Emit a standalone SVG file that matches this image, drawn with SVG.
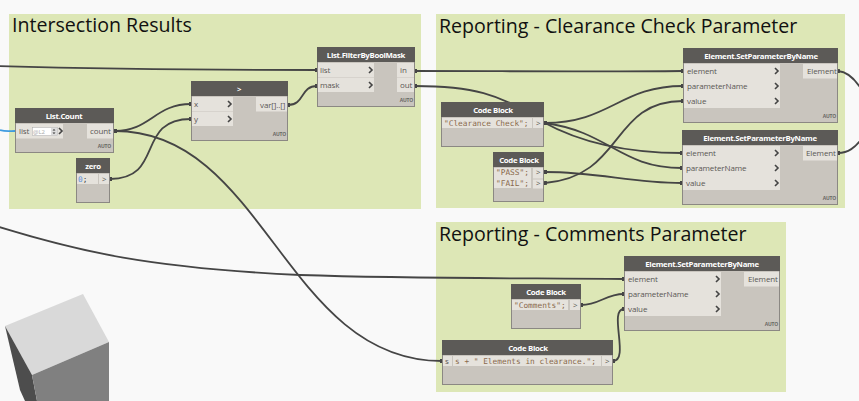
<svg xmlns="http://www.w3.org/2000/svg" width="859" height="401" viewBox="0 0 859 401">
<defs><style>
.grp{fill:#dde7b6}
.title{font:19.6px "Open Sans",sans-serif;fill:#111}
.body{fill:#c9c5be;stroke:#8b8883;stroke-width:1}
.head{fill:#5c5a57}
.row{fill:#e5e2dc}
.h{font:bold 7.800px "Open Sans",sans-serif;fill:#fff;text-anchor:middle;letter-spacing:-.3px}
.p{font:8px "Open Sans",sans-serif;fill:#5a5754;letter-spacing:-.12px}
.c{font:7.800px "DejaVu Sans Mono",monospace;fill:#8a6a4c}
.auto{font:bold 5px "Open Sans",sans-serif;fill:#6a6865;text-anchor:end;letter-spacing:-.2px}
.chev{fill:none;stroke:#444;stroke-width:1.6}
.w{fill:none;stroke:#454545;stroke-width:1.8;marker-start:url(#port);marker-end:url(#port)}
.cube1{fill:#d9d9d9}.cube2{fill:#4d4d4d}.cube3{fill:#808080}
</style>
<marker id="port" markerUnits="userSpaceOnUse" markerWidth="4" markerHeight="4" refX="2" refY="2" orient="auto"><rect width="4" height="4" fill="#454545"/></marker>
</defs>
<rect width="859" height="401" fill="#f9f9f9"/>
<g id="groups">
<g id="group-intersection"><rect class="grp" x="9" y="14" width="412" height="195"/><text class="title" x="12" y="32">Intersection Results</text></g>
<g id="group-clearance"><rect class="grp" x="436" y="14" width="409" height="194"/><text class="title" x="439" y="33">Reporting - Clearance Check Parameter</text></g>
<g id="group-comments"><rect class="grp" x="436" y="222" width="350" height="170"/><text class="title" x="439" y="241">Reporting - Comments Parameter</text></g>
</g>
<g id="cube"><polygon class="cube1" points="5,326 83,294 109,342 32,375"/><polygon class="cube2" points="5,326 32,375 37,401 25,401 20,390"/><polygon class="cube3" points="32,375 109,342 109,401 37,401"/></g>
<g id="connectors">
<path class="w" d="M-4 66C100 69 220 70 317 70"/>
<path class="w" d="M415 71C500 71 600 72 683 71"/>
<path class="w" d="M415 86C470 86 500 93 543 122C590 148 640 153 682 153"/>
<path class="w" d="M545 123C610 123 620 86 683 86"/>
<path class="w" d="M545 123C610 132 620 168 682 168"/>
<path class="w" d="M545 183C625 176 610 101 683 101"/>
<path class="w" d="M545 172C600 172 630 183 682 183"/>
<path class="w" d="M838 71C850 72 859 85 863 92"/>
<path class="w" d="M838 153C848 153 855 148 863 137"/>
<path class="w" d="M115 131C150 131 155 104 191 104"/>
<path class="w" d="M115 131C265 131 285 361 442 361"/>
<path class="w" d="M110 179C165 179 135 119 191 119"/>
<path class="w" d="M288 105C305 105 300 86 317 86"/>
<path class="w" d="M-4 226C80 252 150 268 300 275C420 279 530 278 624 279"/>
<path class="w" d="M581 305C600 305 605 294 624 294"/>
<path class="w" d="M613 361C630 361 608 309 624 309"/>
<path d="M0 130C6 132 10 131 15 131" fill="none" stroke="#3f9be0" stroke-width="1.800"/>
</g>
<g id="node-filter"><rect class="body" x="317.500" y="47.500" width="97" height="59"/><rect class="head" x="317" y="47" width="98" height="15"/><rect class="row" x="318" y="63" width="56" height="14.500"/><rect class="row" x="318" y="78" width="56" height="14"/><rect class="row" x="397" y="63" width="17" height="14.500"/><rect class="row" x="397" y="78" width="17" height="14"/><text class="h" x="366" y="58">List.FilterByBoolMask</text><text class="p" x="320" y="73">list</text><text class="p" x="320" y="88">mask</text><text class="p" x="400" y="73">in</text><text class="p" x="400" y="88">out</text><path class="chev" d="M369 67l3 3l-3 3M369 82l3 3l-3 3"/><text class="auto" x="413" y="102">AUTO</text></g>
<g id="node-gt"><rect class="body" x="191.500" y="81.500" width="96" height="59"/><rect class="head" x="191" y="81" width="97" height="15"/><rect class="row" x="192" y="97" width="41" height="14.500"/><rect class="row" x="192" y="112" width="41" height="14"/><rect class="row" x="256" y="97" width="31" height="14.500"/><text class="h" x="239" y="92">&gt;</text><text class="p" x="194" y="107">x</text><text class="p" x="194" y="122">y</text><text class="p" x="260" y="108">var[]..[]</text><path class="chev" d="M228 101l3 3l-3 3M228 116l3 3l-3 3"/><text class="auto" x="286" y="136">AUTO</text></g>
<g id="node-count"><rect class="body" x="15.500" y="108.500" width="98" height="44"/><rect class="head" x="15" y="108" width="99" height="15"/><rect class="row" x="16" y="124" width="47" height="14.500"/><rect class="row" x="87" y="124" width="26" height="14.500"/><rect x="32.500" y="127.500" width="25" height="8" fill="#fff" stroke="#aaa" stroke-width=".5"/><rect x="51" y="128" width="6" height="7" fill="#ddd"/><path d="M52.500 130.500l1.500-1.500l1.500 1.500zM52.500 132.500l1.500 1.500l1.500-1.500z" fill="#333"/><text x="33" y="134" font-family="Open Sans,sans-serif" font-size="6" fill="#aaa">@L2</text><text class="h" x="64" y="119">List.Count</text><text class="p" x="19" y="134">list</text><text class="p" x="90" y="134">count</text><path class="chev" d="M59 128l3 3l-3 3"/><text class="auto" x="111" y="148">AUTO</text></g>
<g id="node-zero"><rect class="body" x="76.500" y="158.500" width="33" height="44"/><rect class="head" x="76" y="158" width="34" height="15"/><rect class="row" x="77" y="174" width="21" height="10"/><rect class="row" x="99" y="174" width="10" height="10"/><text class="h" x="93" y="169">zero</text><text class="c" x="78" y="182"><tspan fill="#5b8fd9">0</tspan><tspan fill="#444">;</tspan></text><text class="p" x="102" y="182">&gt;</text></g>
<g id="node-cb-clearance"><rect class="body" x="441.500" y="102.500" width="102" height="44"/><rect class="head" x="441" y="102" width="103" height="15"/><rect class="row" x="442" y="118" width="90" height="10"/><rect class="row" x="533" y="118" width="10" height="10"/><text class="h" x="493" y="113">Code Block</text><text class="c" x="444" y="126">"Clearance Check";</text><text class="p" x="536" y="126">&gt;</text></g>
<g id="node-cb-passfail"><rect class="body" x="493.500" y="152.500" width="50" height="49"/><rect class="head" x="493" y="152" width="51" height="15"/><rect class="row" x="494" y="168" width="37" height="20"/><rect class="row" x="533" y="168" width="10" height="10.500"/><rect class="row" x="533" y="179.500" width="10" height="9"/><text class="h" x="519" y="163">Code Block</text><text class="c" x="496" y="175">"PASS";</text><text class="c" x="496" y="186">"FAIL";</text><text class="p" x="536" y="175">&gt;</text><text class="p" x="536" y="186">&gt;</text></g>
<g id="node-set1"><rect class="body" x="683.500" y="48.500" width="154" height="74"/><rect class="head" x="683" y="48" width="155" height="15"/><rect class="row" x="684" y="64" width="96" height="44"/><rect class="row" x="803" y="64" width="34" height="14.500"/><text class="h" x="761" y="59">Element.SetParameterByName</text><text class="p" x="687" y="74">element</text><text class="p" x="687" y="89">parameterName</text><text class="p" x="687" y="104">value</text><text class="p" x="807" y="74">Element</text><path class="chev" d="M775 68l3 3l-3 3M775 83l3 3l-3 3M775 98l3 3l-3 3"/><text class="auto" x="836" y="118">AUTO</text></g>
<g id="node-set2"><rect class="body" x="682.500" y="130.500" width="155" height="74"/><rect class="head" x="682" y="130" width="156" height="15"/><rect class="row" x="683" y="146" width="97" height="44"/><rect class="row" x="803" y="146" width="34" height="14.500"/><text class="h" x="760" y="141">Element.SetParameterByName</text><text class="p" x="686" y="156">element</text><text class="p" x="686" y="171">parameterName</text><text class="p" x="686" y="186">value</text><text class="p" x="806" y="156">Element</text><path class="chev" d="M775 150l3 3l-3 3M775 165l3 3l-3 3M775 180l3 3l-3 3"/><text class="auto" x="836" y="200">AUTO</text></g>
<g id="node-set3"><rect class="body" x="624.500" y="256.500" width="155" height="74"/><rect class="head" x="624" y="256" width="156" height="15"/><rect class="row" x="625" y="272" width="96" height="44"/><rect class="row" x="744" y="272" width="35" height="14.500"/><text class="h" x="702" y="267">Element.SetParameterByName</text><text class="p" x="628" y="282">element</text><text class="p" x="628" y="297">parameterName</text><text class="p" x="628" y="312">value</text><text class="p" x="748" y="282">Element</text><path class="chev" d="M716 276l3 3l-3 3M716 291l3 3l-3 3M716 306l3 3l-3 3"/><text class="auto" x="778" y="326">AUTO</text></g>
<g id="node-cb-comments"><rect class="body" x="511.500" y="284.500" width="69" height="44"/><rect class="head" x="511" y="284" width="70" height="15"/><rect class="row" x="512" y="300" width="56" height="10"/><rect class="row" x="570" y="300" width="10" height="10"/><text class="h" x="546" y="295">Code Block</text><text class="c" x="514" y="308">"Comments";</text><text class="p" x="573" y="308">&gt;</text></g>
<g id="node-cb-s"><rect class="body" x="442.500" y="340.500" width="170" height="44"/><rect class="head" x="442" y="340" width="171" height="15"/><rect class="row" x="443" y="356" width="9" height="10"/><rect class="row" x="453" y="356" width="148" height="10"/><rect class="row" x="602" y="356" width="10" height="10"/><text class="h" x="528" y="351">Code Block</text><text class="p" x="445" y="364">s</text><text class="c" x="455" y="364">s + " Elements in clearance.";</text><text class="p" x="605" y="364">&gt;</text></g>
</svg>
